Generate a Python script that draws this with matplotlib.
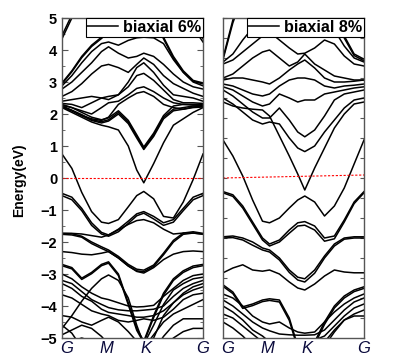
import numpy as np
import matplotlib.pyplot as plt
from matplotlib.ticker import MultipleLocator

plt.rcParams['font.family'] = ['Liberation Sans', 'DejaVu Sans']

# k-path positions (fraction of G-M-K-G path)
kpts = [0.00, 0.07, 0.14, 0.21, 0.28, 0.33, 0.40, 0.47, 0.53, 0.58, 0.65, 0.72, 0.79, 0.86, 0.93, 1.00]
klabels = ['G', 'M', 'K', 'G']
kticks = [0.035, 0.315, 0.595, 1.0]

# biaxial 6% bands (eV)
bands_6 = [
    [4.45, 5.10, 5.80, 6.0, 6.0, 6.0, 6.0, 6.0, 6.0, 6.0, 6.0, 6.0, 6.0, 6.0, 4.85, 4.35],
    [4.35, 5.00, 5.70, 6.0, 6.0, 6.0, 6.0, 6.0, 6.0, 6.0, 6.0, 6.0, 6.0, 5.6, 4.70, 4.25],
    [2.97, 3.35, 3.80, 4.15, 4.40, 4.60, 4.75, 4.90, 5.20, 5.40, 5.00, 4.40, 3.80, 3.35, 3.05, 2.97],
    [2.94, 3.32, 3.76, 4.11, 4.36, 4.56, 4.70, 4.86, 5.15, 5.35, 4.95, 4.35, 3.75, 3.31, 3.02, 2.94],
    [2.88, 3.20, 3.60, 3.95, 4.20, 4.25, 4.15, 4.30, 4.38, 4.40, 4.38, 4.20, 3.70, 3.30, 3.00, 2.88],
    [2.78, 3.00, 3.30, 3.60, 3.95, 4.10, 3.90, 3.75, 3.80, 3.90, 3.80, 3.55, 3.25, 3.00, 2.85, 2.78],
    [2.55, 2.70, 2.95, 3.25, 3.50, 3.55, 3.45, 3.30, 3.55, 3.75, 3.55, 3.20, 2.95, 2.80, 2.65, 2.55],
    [2.40, 2.45, 2.50, 2.55, 2.50, 2.45, 2.60, 3.00, 3.45, 3.60, 3.30, 2.90, 2.60, 2.55, 2.50, 2.40],
    [2.33, 2.30, 2.20, 2.35, 2.50, 2.55, 2.60, 2.85, 3.20, 3.27, 3.05, 2.75, 2.45, 2.35, 2.35, 2.33],
    [2.27, 2.20, 2.10, 2.00, 2.20, 2.35, 2.40, 2.60, 2.80, 2.85, 2.70, 2.50, 2.35, 2.30, 2.28, 2.27],
    [2.22, 2.10, 1.95, 1.85, 1.80, 1.90, 2.30, 2.50, 2.65, 2.70, 2.55, 2.30, 2.20, 2.15, 2.20, 2.22],
    [2.30, 2.20, 2.05, 1.90, 1.82, 1.88, 2.10, 1.80, 1.35, 0.97, 1.40, 1.95, 2.25, 2.30, 2.30, 2.30],
    [2.25, 2.12, 1.98, 1.82, 1.76, 1.82, 2.05, 1.75, 1.30, 0.93, 1.35, 1.90, 2.15, 2.20, 2.25, 2.25],
    [2.24, 2.10, 1.95, 1.80, 1.72, 1.78, 2.00, 1.70, 1.25, 0.89, 1.30, 1.85, 2.10, 2.15, 2.22, 2.24],
    [2.20, 2.05, 1.90, 1.75, 1.65, 1.60, 1.50, 1.00, 0.25, -0.15, 0.45, 1.10, 1.65, 1.85, 2.05, 2.20],
    [0.75, 0.30, -0.45, -1.05, -1.38, -1.42, -1.30, -0.90, -0.55, -0.42, -0.65, -1.20, -1.25, -0.75, -0.05, 0.75],
    [-0.48, -0.60, -0.95, -1.40, -1.70, -1.78, -1.60, -1.35, -1.12, -1.05, -1.20, -1.40, -1.30, -0.95, -0.60, -0.48],
    [-0.55, -0.68, -1.02, -1.48, -1.75, -1.82, -1.68, -1.42, -1.18, -1.10, -1.28, -1.48, -1.38, -1.02, -0.68, -0.55],
    [-1.73, -1.73, -1.75, -1.80, -1.85, -1.78, -1.62, -1.45, -1.33, -1.30, -1.40, -1.60, -1.75, -1.72, -1.72, -1.75],
    [-1.73, -1.74, -1.82, -2.00, -2.15, -2.25, -2.45, -2.70, -2.85, -2.88, -2.72, -2.35, -1.95, -1.72, -1.68, -1.73],
    [-1.76, -1.78, -1.85, -2.05, -2.20, -2.30, -2.50, -2.75, -2.90, -2.93, -2.76, -2.40, -2.00, -1.76, -1.72, -1.76],
    [-2.30, -2.33, -2.38, -2.40, -2.35, -2.30, -2.50, -2.75, -2.92, -2.97, -2.80, -2.55, -2.38, -2.30, -2.28, -2.30],
    [-2.70, -2.80, -3.13, -2.95, -2.70, -2.62, -3.00, -3.90, -4.70, -5.10, -4.30, -3.60, -3.15, -2.90, -2.75, -2.70],
    [-2.74, -2.84, -3.17, -2.99, -2.74, -2.66, -3.05, -3.96, -4.76, -5.15, -4.36, -3.66, -3.20, -2.95, -2.80, -2.74],
    [-3.00, -3.15, -3.40, -3.60, -3.75, -3.80, -3.90, -4.00, -4.03, -4.02, -3.98, -3.70, -3.45, -3.20, -3.05, -3.00],
    [-4.70, -4.30, -3.85, -3.45, -3.15, -3.03, -3.20, -3.75, -4.60, -5.20, -4.60, -3.95, -3.50, -3.30, -3.15, -3.10],
    [-3.20, -3.30, -3.55, -3.80, -3.95, -4.05, -4.12, -4.15, -4.15, -4.13, -4.10, -4.00, -3.70, -3.45, -3.30, -3.20],
    [-3.30, -3.45, -3.70, -3.85, -4.10, -4.20, -4.25, -4.30, -4.35, -4.35, -4.30, -4.15, -3.90, -3.60, -3.40, -3.30],
    [-3.65, -3.75, -3.95, -4.15, -4.25, -4.30, -4.45, -4.50, -4.45, -4.40, -4.45, -4.35, -4.10, -3.80, -3.65, -3.60],
    [-4.30, -4.35, -4.50, -4.60, -4.45, -4.35, -4.50, -4.80, -5.10, -5.30, -5.00, -4.30, -3.90, -3.65, -3.50, -3.40],
    [-4.60, -4.85, -5.30, -5.60, -5.60, -5.40, -5.20, -5.30, -5.40, -5.30, -4.90, -4.50, -4.25, -4.10, -3.95, -3.80],
    [-4.90, -4.75, -4.60, -4.70, -4.95, -5.20, -5.60, -5.60, -5.60, -5.60, -5.40, -4.95, -4.60, -4.40, -4.40, -4.40],
    [-5.20, -5.10, -5.00, -5.10, -5.40, -5.60, -5.60, -5.60, -5.60, -5.60, -5.60, -5.30, -5.00, -4.80, -4.70, -4.70],
]

# biaxial 8% bands (eV)
bands_8 = [
    [3.00, 3.95, 4.60, 5.0, 5.0, 5.0, 5.0, 5.0, 5.0, 5.0, 5.0, 5.0, 4.40, 3.55, 3.10, 2.97],
    [2.96, 3.88, 4.55, 5.0, 5.0, 5.0, 5.0, 5.0, 5.0, 5.0, 5.0, 5.0, 4.35, 3.50, 3.06, 2.93],
    [2.90, 3.10, 3.45, 3.75, 3.95, 4.10, 4.20, 4.10, 3.90, 3.70, 3.85, 3.95, 3.70, 3.30, 3.00, 2.90],
    [2.85, 2.95, 3.15, 3.35, 3.55, 3.65, 3.45, 3.25, 3.10, 3.12, 3.25, 3.45, 3.35, 3.05, 2.85, 2.80],
    [2.50, 2.60, 2.80, 3.00, 3.15, 3.20, 3.00, 2.80, 2.90, 3.10, 2.85, 2.70, 2.55, 2.50, 2.45, 2.45],
    [2.45, 2.50, 2.50, 2.45, 2.40, 2.35, 2.50, 2.70, 2.85, 2.95, 2.75, 2.50, 2.40, 2.40, 2.42, 2.45],
    [2.35, 2.30, 2.20, 2.10, 2.05, 2.10, 2.30, 2.45, 2.50, 2.50, 2.45, 2.30, 2.25, 2.30, 2.32, 2.35],
    [2.28, 2.20, 2.05, 1.90, 1.80, 1.85, 2.10, 2.00, 1.90, 1.95, 1.95, 2.10, 2.15, 2.20, 2.25, 2.28],
    [2.20, 2.05, 1.85, 1.65, 1.50, 1.50, 1.75, 1.45, 1.15, 1.03, 1.20, 1.55, 1.95, 2.10, 2.15, 2.20],
    [2.00, 1.85, 1.65, 1.45, 1.35, 1.40, 1.35, 1.00, 0.75, 0.66, 0.80, 1.15, 1.45, 1.75, 1.95, 2.00],
    [1.90, 1.80, 1.75, 1.72, 1.70, 1.55, 1.05, 0.55, 0.10, -0.30, 0.25, 0.75, 1.25, 1.60, 1.85, 1.90],
    [0.95, 0.55, 0.05, -0.55, -1.08, -1.12, -1.00, -0.75, -0.55, -0.45, -0.60, -0.95, -0.70, -0.25, 0.35, 0.95],
    [-0.34, -0.42, -0.70, -1.10, -1.50, -1.65, -1.55, -1.30, -1.12, -1.09, -1.20, -1.50, -1.45, -1.05, -0.60, -0.34],
    [-0.37, -0.46, -0.75, -1.15, -1.55, -1.70, -1.60, -1.38, -1.20, -1.18, -1.30, -1.58, -1.52, -1.10, -0.64, -0.37],
    [-1.47, -1.45, -1.50, -1.60, -1.75, -1.80, -2.00, -2.30, -2.48, -2.52, -2.30, -1.95, -1.65, -1.50, -1.47, -1.47],
    [-1.50, -1.49, -1.55, -1.68, -1.80, -1.85, -2.05, -2.36, -2.55, -2.60, -2.38, -2.00, -1.70, -1.53, -1.50, -1.50],
    [-2.37, -2.25, -2.17, -2.30, -2.33, -2.30, -2.40, -2.60, -2.75, -2.80, -2.65, -2.45, -2.30, -2.35, -2.37, -2.37],
    [-2.67, -2.85, -3.22, -3.15, -3.05, -3.02, -3.05, -3.50, -4.20, -4.50, -4.10, -3.60, -3.20, -2.95, -2.80, -2.72],
    [-2.71, -2.89, -3.26, -3.19, -3.09, -3.06, -3.10, -3.56, -4.26, -4.55, -4.16, -3.66, -3.25, -3.00, -2.84, -2.76],
    [-2.90, -3.00, -3.20, -3.45, -3.60, -3.65, -3.60, -3.75, -3.85, -3.88, -3.85, -3.60, -3.35, -3.15, -3.00, -2.90],
    [-3.05, -3.20, -3.40, -3.60, -3.75, -3.82, -3.90, -3.92, -3.93, -3.93, -3.92, -3.80, -3.55, -3.30, -3.10, -3.00],
    [-3.20, -3.35, -3.55, -3.80, -3.95, -4.10, -4.20, -4.10, -4.05, -4.05, -4.05, -3.95, -3.70, -3.45, -3.25, -3.15],
    [-3.40, -3.50, -3.70, -3.90, -4.10, -4.20, -4.30, -4.40, -4.50, -4.50, -4.40, -4.20, -3.85, -3.55, -3.40, -3.30],
    [-3.60, -3.75, -3.95, -4.20, -4.40, -4.50, -4.50, -4.50, -4.50, -4.50, -4.40, -4.10, -3.80, -3.55, -3.45, -3.45],
]

zero_6 = [0.0, 0.0]
zero_8 = [0.0, 0.075]


def draw_panel(ax, bands, zero, ylim, label, show_ylabels):
    for b in bands:
        ax.plot(kpts, b, color='black', lw=1.1, solid_joinstyle='round')
    ax.plot([0, 1], zero, color='red', ls=(0, (2, 1.5)), lw=0.8)
    ax.set_xlim(0, 1)
    ax.set_ylim(*ylim)
    ax.set_xticks(kticks)
    ax.set_xticklabels(klabels, fontsize=12, style='italic', color='#0a0a3c')
    ax.tick_params(axis='x', length=0, pad=2)
    for s in ax.spines.values():
        s.set_color('#555555')
        s.set_linewidth(1.0)
    if show_ylabels:
        ax.yaxis.set_major_locator(MultipleLocator(1))
        ax.yaxis.set_minor_locator(MultipleLocator(0.5))
        ax.tick_params(axis='y', which='both', direction='in', right=True,
                       labelsize=10.5, color='#555555')
        ax.tick_params(axis='y', which='major', length=4)
        ax.tick_params(axis='y', which='minor', length=2)
        for t in ax.get_yticklabels():
            t.set_fontweight('bold')
    else:
        ax.yaxis.set_major_locator(MultipleLocator(0.5))
        ax.tick_params(axis='y', which='both', direction='in', right=True,
                       labelleft=False, length=3, color='#555555')
    leg_line, = ax.plot([], [], color='black', lw=1.1)
    leg = ax.legend([leg_line], [label], loc='upper right', borderaxespad=0,
                    fancybox=False, edgecolor='black', framealpha=1,
                    handlelength=1.9, handletextpad=0.3, borderpad=0.12,
                    prop={'weight': 'bold', 'size': 11.6})
    leg.get_frame().set_linewidth(0.8)


fig = plt.figure(figsize=(3.94, 3.59), dpi=100)
ax1 = fig.add_axes([62/394, 1 - 338/359, 141/394, 320/359])
ax2 = fig.add_axes([223/394, 1 - 338/359, 141/394, 320/359])

draw_panel(ax1, bands_6, zero_6, (-5, 5), 'biaxial 6%', True)
draw_panel(ax2, bands_8, zero_8, (-4, 4), 'biaxial 8%', False)

fig.text(19/394, 1 - 180/359, 'Energy(eV)', rotation=90, ha='center', va='center',
         fontsize=10, fontweight='bold')

fig.savefig('out.png', dpi=100)
